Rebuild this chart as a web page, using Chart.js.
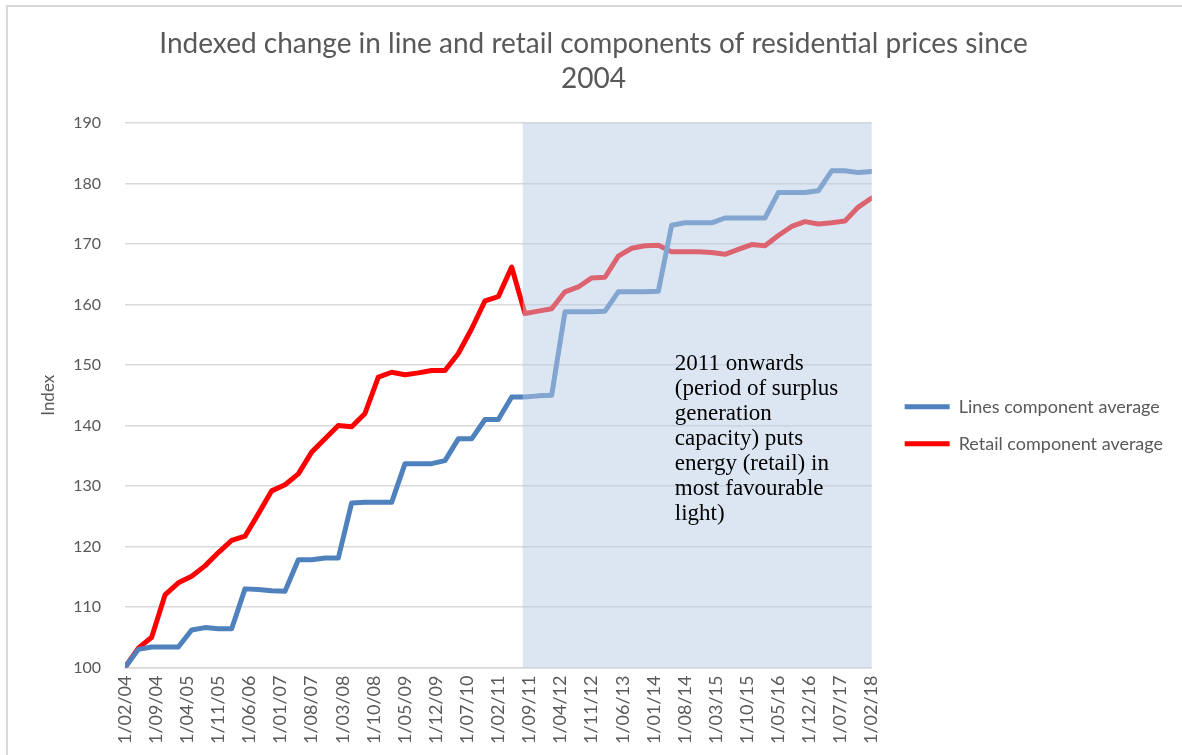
<!DOCTYPE html>
<html>
<head>
<meta charset="utf-8">
<title>Indexed change in line and retail components</title>
<script src="https://cdn.jsdelivr.net/npm/chart.js@4.4.1/dist/chart.umd.min.js"></script>
<style>
  html, body { margin: 0; padding: 0; background: #fff; }
  #wrap { position: relative; width: 1182px; height: 755px; overflow: hidden; }
</style>
</head>
<body>
<div id="wrap"><canvas id="chart" width="1182" height="755"></canvas></div>
<script>
// ---- data (quarterly survey dates, index Feb 2004 = 100) ----
const dates = [
  '2004-02', '2004-05', '2004-08', '2004-11', '2005-02', '2005-05', '2005-08', '2005-11',
  '2006-02', '2006-05', '2006-08', '2006-11', '2007-02', '2007-05', '2007-08', '2007-11',
  '2008-02', '2008-05', '2008-08', '2008-11', '2009-02', '2009-05', '2009-08', '2009-11',
  '2010-02', '2010-05', '2010-08', '2010-11', '2011-02', '2011-05', '2011-08', '2011-11',
  '2012-02', '2012-05', '2012-08', '2012-11', '2013-02', '2013-05', '2013-08', '2013-11',
  '2014-02', '2014-05', '2014-08', '2014-11', '2015-02', '2015-05', '2015-08', '2015-11',
  '2016-02', '2016-05', '2016-08', '2016-11', '2017-02', '2017-05', '2017-08', '2017-11',
  '2018-02'
];

const linesAvg = [
  100, 103.0, 103.4, 103.4, 103.4, 106.2, 106.6, 106.4, 106.4, 113.0, 112.9, 112.7,
  112.6, 117.8, 117.8, 118.1, 118.1, 127.2, 127.3, 127.3, 127.3, 133.7, 133.7, 133.7,
  134.2, 137.8, 137.8, 141.0, 141.0, 144.7, 144.7, 144.9, 145.0, 158.8, 158.8, 158.8,
  158.9, 162.1, 162.1, 162.1, 162.2, 173.1, 173.5, 173.5, 173.5, 174.3, 174.3, 174.3,
  174.3, 178.5, 178.5, 178.5, 178.8, 182.1, 182.1, 181.8, 182.0
];

const retailAvg = [
  100, 103.2, 105, 112, 114, 115.1, 116.8, 119, 121, 121.7, 125.4, 129.2,
  130.2, 132, 135.6, 137.8, 140, 139.8, 142, 148, 148.8, 148.4, 148.7, 149.1,
  149.1, 151.9, 156, 160.6, 161.3, 166.2, 158.5, 158.9, 159.3, 162.1, 162.9, 164.4,
  164.5, 168.0, 169.3, 169.7, 169.8, 168.7, 168.7, 168.7, 168.6, 168.3, 169.1, 169.9,
  169.7, 171.4, 172.9, 173.7, 173.3, 173.5, 173.8, 176.1, 177.6
];

const tickLabels = [
  '1/02/04', '1/09/04', '1/04/05', '1/11/05', '1/06/06', '1/01/07', '1/08/07',
  '1/03/08', '1/10/08', '1/05/09', '1/12/09', '1/07/10', '1/02/11', '1/09/11',
  '1/04/12', '1/11/12', '1/06/13', '1/01/14', '1/08/14', '1/03/15', '1/10/15',
  '1/05/16', '1/12/16', '1/07/17', '1/02/18'
];

const seriesNames = ['Lines component average', 'Retail component average'];
const yTicks = [100, 110, 120, 130, 140, 150, 160, 170, 180, 190];

const noteLines = [
  '2011 onwards',
  '(period of surplus',
  'generation',
  'capacity) puts',
  'energy (retail) in',
  'most favourable',
  'light)'
];

// months since first date, used as the x value
function monthsFrom(start, d) {
  const [y0, m0] = start.split('-').map(Number);
  const [y1, m1] = d.split('-').map(Number);
  return (y1 - y0) * 12 + (m1 - m0);
}
const xEnd = monthsFrom(dates[0], dates[dates.length - 1]);
const shadeFrom = 89.5;   // shaded "2011 onwards" band starts just before Aug 2011

const toPoints = vals => vals.map((v, i) => ({ x: monthsFrom(dates[0], dates[i]), y: v }));

const GREY = '#595959';
const FONT = 'Lato, "Open Sans", sans-serif';

// ---- plugins: chart border, shaded band, note text ----
const chartBorder = {
  id: 'chartBorder',
  beforeDraw(chart) {
    const ctx = chart.ctx;
    ctx.save();
    ctx.strokeStyle = '#d9d9d9';
    ctx.lineWidth = 2;
    ctx.strokeRect(7, 6, chart.width + 20, chart.height + 20);
    ctx.restore();
  }
};

const shadeBand = {
  id: 'shadeBand',
  afterDatasetsDraw(chart) {
    const { ctx, chartArea, scales: { x, y } } = chart;
    const left = x.getPixelForValue(shadeFrom);
    const right = x.getPixelForValue(xEnd);
    const top = y.getPixelForValue(190);
    ctx.save();
    ctx.fillStyle = 'rgba(184, 204, 228, 0.49)';
    ctx.fillRect(left, top, right - left, chartArea.bottom - top);

    // note text inside the band
    ctx.fillStyle = '#000';
    ctx.font = '23px "Liberation Serif", "Times New Roman", serif';
    ctx.textBaseline = 'middle';
    ctx.textAlign = 'left';
    const tx = x.getPixelForValue(123.7);
    const ty = y.getPixelForValue(150.2);
    noteLines.forEach((t, i) => ctx.fillText(t, tx, ty + i * 25));
    ctx.restore();
  }
};

const ctx = document.getElementById('chart').getContext('2d');
new Chart(ctx, {
  type: 'line',
  data: {
    datasets: [
      {
        label: seriesNames[0],
        data: toPoints(linesAvg),
        borderColor: '#4f81bd',
        backgroundColor: '#4f81bd',
        borderWidth: 5,
        pointRadius: 0,
        borderJoinStyle: 'round',
        borderCapStyle: 'round',
        tension: 0
      },
      {
        label: seriesNames[1],
        data: toPoints(retailAvg),
        borderColor: '#ff0000',
        backgroundColor: '#ff0000',
        borderWidth: 5,
        pointRadius: 0,
        borderJoinStyle: 'round',
        borderCapStyle: 'round',
        tension: 0
      }
    ]
  },
  options: {
    responsive: false,
    animation: false,
    layout: { padding: { top: 26, left: 14, right: 9, bottom: 3 } },
    plugins: {
      title: {
        display: true,
        text: ['Indexed change in line and retail components of residential prices since', '2004'],
        color: GREY,
        font: { family: FONT, size: 28, weight: 'normal', lineHeight: 1.25 },
        padding: { top: 0, bottom: 27 }
      },
      legend: {
        position: 'right',
        title: { display: true, text: '', font: { size: 12 }, padding: { top: 0, bottom: 58 } },
        labels: {
          usePointStyle: true,
          pointStyle: 'line',
          pointStyleWidth: 45,
          color: GREY,
          font: { family: FONT, size: 18 },
          padding: 19
        }
      },
      tooltip: { enabled: false }
    },
    scales: {
      x: {
        type: 'linear',
        min: 0,
        max: xEnd,
        ticks: {
          stepSize: 7,
          autoSkip: false,
          maxRotation: 90,
          minRotation: 90,
          color: GREY,
          font: { family: FONT, size: 18 },
          padding: 8,
          callback: v => tickLabels[Math.round(v / 7)]
        },
        grid: { display: false, drawTicks: false },
        border: { display: true, color: '#d9d9d9', width: 1.5 }
      },
      y: {
        min: yTicks[0],
        max: yTicks[yTicks.length - 1],
        afterBuildTicks: axis => { axis.ticks = yTicks.map(v => ({ value: v })); },
        afterFit: axis => { axis.width = 111; },
        ticks: {
          color: GREY,
          font: { family: FONT, size: 16 },
          padding: 24
        },
        grid: { color: '#d9d9d9', lineWidth: 1.5, drawTicks: false },
        border: { display: false },
        title: {
          display: true,
          text: 'Index',
          color: GREY,
          font: { family: FONT, size: 17 },
          padding: { top: 24, bottom: 0 }
        }
      },
      // empty spacer between plot and legend (hidden, only keeps its width)
      gap: {
        type: 'linear',
        position: 'right',
        display: false,
        min: 0,
        max: 1,
        afterFit: axis => { axis.width = 14; }
      }
    }
  },
  plugins: [chartBorder, shadeBand]
});
</script>
</body>
</html>
